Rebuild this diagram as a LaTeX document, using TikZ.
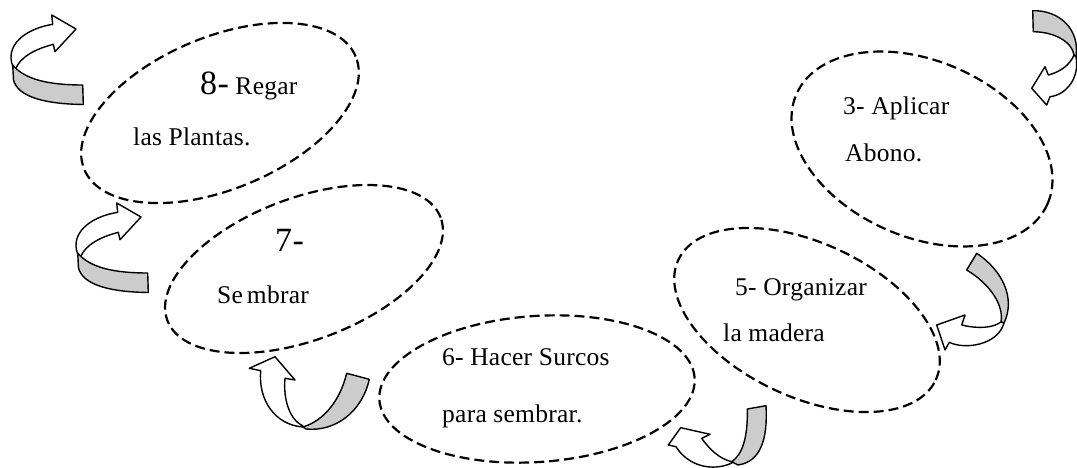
\documentclass[tikz,border=0pt]{standalone}
\usepackage{fontspec}
\setmainfont{Liberation Serif}
\usetikzlibrary{shapes.geometric}
\definecolor{ribbon}{HTML}{CCCCCC}
\newcommand\steptext{\fontsize{25.5}{29}\selectfont\addfontfeature{LetterSpace=1}}
\newcommand\stepnum{\fontsize{34}{38}\selectfont}
\tikzset{
  ellipsebox/.style={draw, ellipse, dash pattern=on 10pt off 5pt, line width=2.2pt, inner sep=0pt, outer sep=0pt},
  ribbongrey/.style={draw, line width=1.4pt, fill=ribbon, line join=round},
  ribbonwhite/.style={draw, line width=1.4pt, fill=white, line join=round},
  steplabel/.style={inner sep=0pt, anchor=base west, font=\steptext},
  curlright/.pic={
    \draw[ribbonwhite] (12.7,66) .. controls (5,46) and (24,29) .. (52.7,24.3) -- (51.7,15) -- (76,29) -- (55,51.7) -- (53.3,44.3) .. controls (36,49) and (21,56) .. (15.5,69) -- cycle;
    \draw[ribbongrey] (12.7,65) .. controls (25,80) and (50,85) .. (82.7,85) -- (83.3,104.5) .. controls (45,104) and (18,97) .. (13.5,80) -- cycle;
  }
}
\begin{document}
\begin{tikzpicture}[x=1pt,y=-1pt]
\useasboundingbox (0,0) rectangle (1077,468);

% curved arrows
\pic at (0,0) {curlright};
\pic at (65,188) {curlright};

% arrow below step 7
\draw[ribbonwhite] (303,427) .. controls (275,425) and (258,400) .. (260.7,370.7) -- (249.3,368.3) -- (275,356.7) -- (295,380) -- (285,378.3) .. controls (283,400) and (290,420) .. (303,426) -- cycle;
\draw[ribbongrey] (303,427) .. controls (325,420) and (340,400) .. (346.7,373.3) -- (369.3,379.3) .. controls (362,412) and (335,432) .. (306,429) -- cycle;

% arrow below step 6
\draw[ribbonwhite] (732,463) .. controls (712,472) and (688,466) .. (676,446.7) -- (668.3,445) -- (680.7,427.7) -- (710,434.3) -- (701.7,438.3) .. controls (710,450) and (720,459) .. (731.7,461.7) -- cycle;
\draw[ribbongrey] (731.7,461.7) .. controls (742,455) and (748,438) .. (747.3,409) -- (766,405.7) .. controls (768,440) and (760,462) .. (738,465) -- cycle;

% arrow between 3 and 5
\draw[ribbongrey] (966.7,270) -- (976.7,253.3) .. controls (1002,270) and (1016,298) .. (1004,323) -- (1001,322) .. controls (1004,305) and (990,284) .. (966.7,270) -- cycle;
\draw[ribbonwhite] (1004,323) .. controls (998,345) and (965,350) .. (949.3,342.3) -- (945,350) -- (936.7,325) -- (965,315) -- (961.7,325) .. controls (978,329) and (993,328) .. (1001,322) -- cycle;

% arrow top right
\draw[ribbongrey] (1033.3,31.7) -- (1032.7,10.7) .. controls (1060,10) and (1080,30) .. (1076,56.7) -- (1074,55) .. controls (1072,42) and (1055,32) .. (1033.3,31.7) -- cycle;
\draw[ribbonwhite] (1076,57) .. controls (1080,78) and (1066,95) .. (1050,96.7) -- (1046.7,105) -- (1031.7,88.3) -- (1045,66.7) -- (1048.3,75) .. controls (1060,72) and (1070,65) .. (1074,55) -- cycle;

% dashed ellipses
\node[ellipsebox, minimum width=294pt, minimum height=152pt, rotate=22.6] (e8) at (220,113) {};
\node[ellipsebox, minimum width=292pt, minimum height=142pt, rotate=20.6] (e7) at (304,269) {};
\node[ellipsebox, minimum width=316pt, minimum height=146pt, rotate=4] (e6) at (537,389) {};
\node[ellipsebox, minimum width=284pt, minimum height=154pt, rotate=-25] (e5) at (807,320) {};
\node[ellipsebox, minimum width=274pt, minimum height=176pt, rotate=-23.5] (e3) at (922,149) {};

% labels
\node[steplabel] (t8a) at (200,95) {{\stepnum 8-} Regar};
\node[steplabel] (t8b) at (133,146) {las Plantas.};
\node[steplabel] (t7a) at (275,251.7) {\stepnum 7-};
\node[steplabel] (t7b) at (217,303) {Se\kern4pt mbrar};
\node[steplabel] (t6a) at (442,365) {6- Hacer Surcos};
\node[steplabel] (t6b) at (442,422) {para sembrar.};
\node[steplabel] (t5a) at (735,295) {5- Organizar};
\node[steplabel] (t5b) at (723,341) {la madera};
\node[steplabel] (t3a) at (843,115) {3- Aplicar};
\node[steplabel] (t3b) at (845,161.7) {Abono.};
\end{tikzpicture}
\end{document}
